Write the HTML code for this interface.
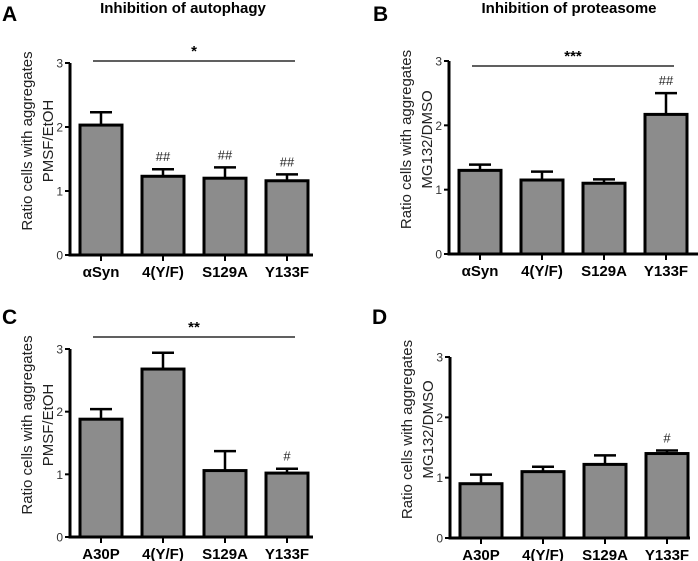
<!DOCTYPE html>
<html><head><meta charset="utf-8"><style>
body{margin:0;background:#fff}
svg{display:block;font-family:"Liberation Sans",Arial,sans-serif}
</style></head><body>
<svg id="fig" width="698" height="561" viewBox="0 0 698 561">
<text x="2" y="21" font-size="21" font-weight="bold">A</text>
<text x="373" y="21" font-size="21" font-weight="bold">B</text>
<text x="2" y="324" font-size="21" font-weight="bold">C</text>
<text x="372" y="324" font-size="21" font-weight="bold">D</text>
<text x="183" y="13" font-size="15" font-weight="bold" text-anchor="middle">Inhibition of autophagy</text>
<text x="569" y="13" font-size="15" font-weight="bold" text-anchor="middle">Inhibition of proteasome</text>
</svg>
<script>
const catsAB = ["αSyn","4(Y/F)","S129A","Y133F"];
const catsCD = ["A30P","4(Y/F)","S129A","Y133F"];
const valsA = [2.03,1.23,1.2,1.16];
const errA = [0.2,0.11,0.17,0.1];
const marksA = ["","##","##","##"];
const valsB = [1.3,1.15,1.1,2.17];
const errB = [0.09,0.13,0.06,0.33];
const marksB = ["","","","##"];
const valsC = [1.88,2.68,1.06,1.02];
const errC = [0.16,0.26,0.31,0.07];
const marksC = ["","","","#"];
const valsD = [0.9,1.1,1.22,1.4];
const errD = [0.15,0.08,0.15,0.05];
const marksD = ["","","","#"];
const yTicks = [0,1,2,3];
const sigA = "*", sigB = "***", sigC = "**", sigD = "";

const NS="http://www.w3.org/2000/svg";
const svg=document.getElementById('fig');
function mk(tag,attrs,text){const e=document.createElementNS(NS,tag);for(const k in attrs)e.setAttribute(k,attrs[k]);if(text!==undefined)e.textContent=text;svg.appendChild(e);return e;}

function panel(id,ax,y0,y3,sigY,xEnd,cats,vals,errs,marks,sig,lab1,lab2){
  const y=v=>y0-(y0-y3)*v/3;
  const step=62,bw=42,first=ax+31;
  const xc=i=>first+i*step;
  const a1=mk('line',{x1:ax,y1:y3,x2:ax,y2:y0+1.5,stroke:'#000','stroke-width':3});
  
  
  const a2=mk('line',{x1:ax-1.5,y1:y0,x2:xEnd,y2:y0,stroke:'#000','stroke-width':3});
  
  
  yTicks.forEach(t=>{
    const tk=mk('line',{x1:ax-5,y1:y(t),x2:ax,y2:y(t),stroke:'#000','stroke-width':2});
    
    
    const tl=mk('text',{x:ax-7,y:y(t)+4.5,'font-size':12,'text-anchor':'end',fill:'#333'},String(t));
    
    
  });
  const g=mk('text',{transform:`translate(${ax-38},${(y0+y3)/2-18}) rotate(-90)`,'font-size':15,'text-anchor':'middle',fill:'#222'});
  
  
  const t1=document.createElementNS(NS,'tspan');t1.setAttribute('x',0);t1.setAttribute('y',0);t1.textContent=lab1;g.appendChild(t1);
  const t2=document.createElementNS(NS,'tspan');t2.setAttribute('x',0);t2.setAttribute('y',21);t2.textContent=lab2;g.appendChild(t2);
  cats.forEach((c,i)=>{
    const cx=xc(i),v=vals[i],e=errs[i];
    const eb=mk('line',{x1:cx,y1:y(v),x2:cx,y2:y(v+e),stroke:'#000','stroke-width':2.5});
    
    
    const ec=mk('line',{x1:cx-11,y1:y(v+e),x2:cx+11,y2:y(v+e),stroke:'#000','stroke-width':2.5});
    
    
    const r=mk('rect',{x:cx-bw/2,y:y(v),width:bw,height:y0-y(v),fill:'#8c8c8c',stroke:'#000','stroke-width':3});
    
    
    const xt=mk('line',{x1:cx,y1:y0,x2:cx,y2:y0+6,stroke:'#000','stroke-width':2});
    
    
    const xl=mk('text',{x:cx,y:y0+22,'font-size':15,'font-weight':'bold','text-anchor':'middle'},c);
    
    
    if(marks[i]){
      const m=mk('text',{x:cx,y:y(v+e)-8,'font-size':13,'text-anchor':'middle',fill:'#222'},marks[i]);
      
      
    }
  });
  if(sig){
    const sl=mk('line',{x1:xc(0)-8,y1:sigY,x2:xc(3)+8,y2:sigY,stroke:'#000','stroke-width':1.2});
    
    
    const st=mk('text',{x:(xc(0)+xc(3))/2,y:sigY-5,'font-size':15,'font-weight':'bold','text-anchor':'middle'},sig);
    
    
  }
}
panel('panel-a',70,255,63,61,313,catsAB,valsA,errA,marksA,sigA,'Ratio cells with aggregates','PMSF/EtOH');
panel('panel-b',449,254,61,66,698,catsAB,valsB,errB,marksB,sigB,'Ratio cells with aggregates','MG132/DMSO');
panel('panel-c',70,537,349,337,313,catsCD,valsC,errC,marksC,sigC,'Ratio cells with aggregates','PMSF/EtOH');
panel('panel-d',450,538,357,0,690,catsCD,valsD,errD,marksD,sigD,'Ratio cells with aggregates','MG132/DMSO');
</script>
</body></html>
